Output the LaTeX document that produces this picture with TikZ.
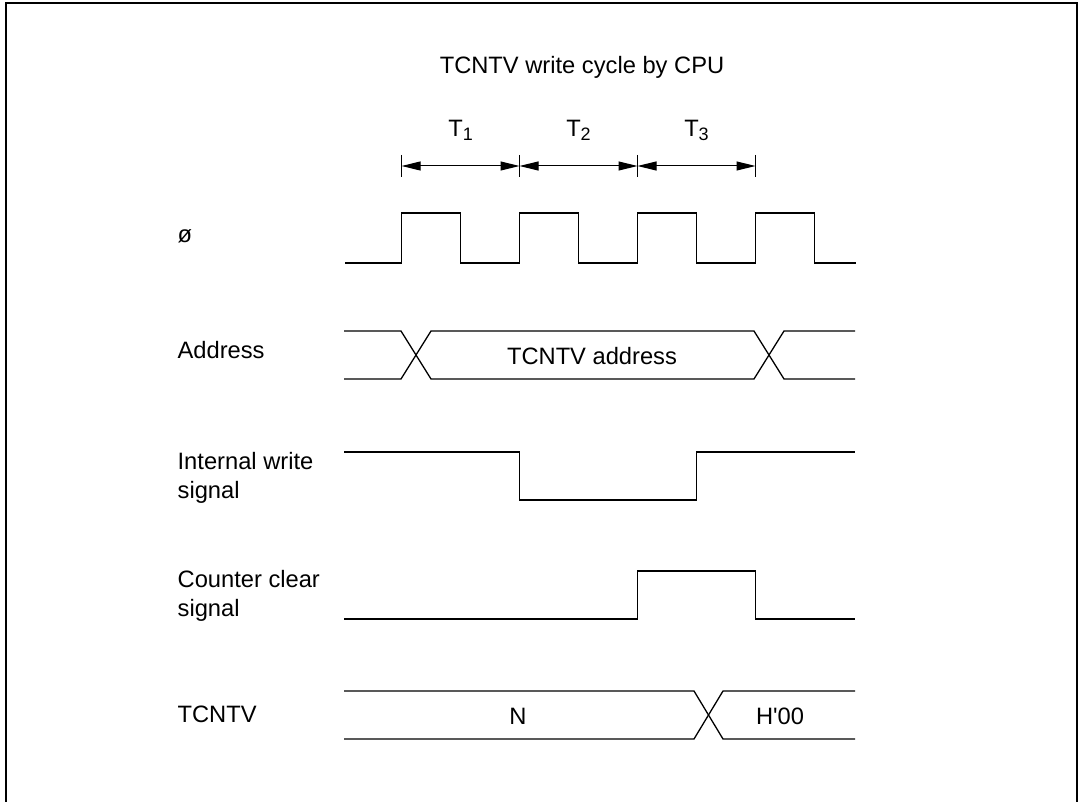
\documentclass[tikz,border=0pt]{standalone}
\usepackage{fontspec}
\setmainfont{Liberation Sans}
\usetikzlibrary{arrows.meta}
\begin{document}
\begin{tikzpicture}[x=1pt,y=-1pt,line join=miter,line width=1.3pt,
	font=\fontsize{23.7}{29}\selectfont,
	dim/.style={{Triangle[length=19pt,width=9pt]}-{Triangle[length=19pt,width=9pt]},line width=1pt},
	lbl/.style={anchor=base west,inner sep=0pt,align=left},
	txt/.style={anchor=base,inner sep=0pt}]
	\useasboundingbox (0,0) rectangle (1079,802);
	\draw[line width=2pt] (6,802) -- (6,3) -- (1077,3) -- (1077,802);
	\node[txt] (title) at (582,74) {TCNTV write cycle by CPU};
	% T states
	\foreach \i/\x in {0/401.6,1/519.5,2/637.5,3/755.5}{
		\coordinate (t\i) at (\x,166);
		\draw[line width=1pt] (\x,155) -- (\x,177);}
	\foreach \i/\j in {0/1,1/2,2/3}
	\draw[dim] (t\i) -- node[txt,yshift=29pt] (T\j) {T\raisebox{-4pt}{\fontsize{18}{18}\selectfont\j}} (t\j);
	% signal names
	\foreach \n/\y/\t in {phi/243/ø,addr/359/Address,wr/498/{Internal write\\signal},clr/616/{Counter clear\\signal},tcv/722/TCNTV}
	\node[lbl] (\n) at (177,\y) {\t};
	% waveforms
	\draw (345,263) -| (401.6,213) -| (460.6,263) -| (519.5,213) -| (578.5,263) -| (637.5,213) -| (696.5,263) -| (755.5,213) -| (814.5,263) -- (856,263);
	\draw (344,331) -- (401,331) -- (431,379) -- (754,379) -- (784,331) -- (855,331);
	\draw (344,379) -- (401,379) -- (431,331) -- (754,331) -- (784,379) -- (855,379);
	\node[txt] (adrval) at (592,364) {TCNTV address};
	\draw (344,452) -| (519.5,500) -| (696.5,452) -- (855,452);
	\draw (344,619) -| (637.5,571) -| (755.5,619) -- (855,619);
	\draw (344,691) -- (694,691) -- (723,739) -- (855,739);
	\draw (344,739) -- (694,739) -- (723,691) -- (855,691);
	\node[txt] (nval) at (518,724) {N};
	\node[txt] (h00) at (780,724) {H\textquotesingle 00};
\end{tikzpicture}
\end{document}
